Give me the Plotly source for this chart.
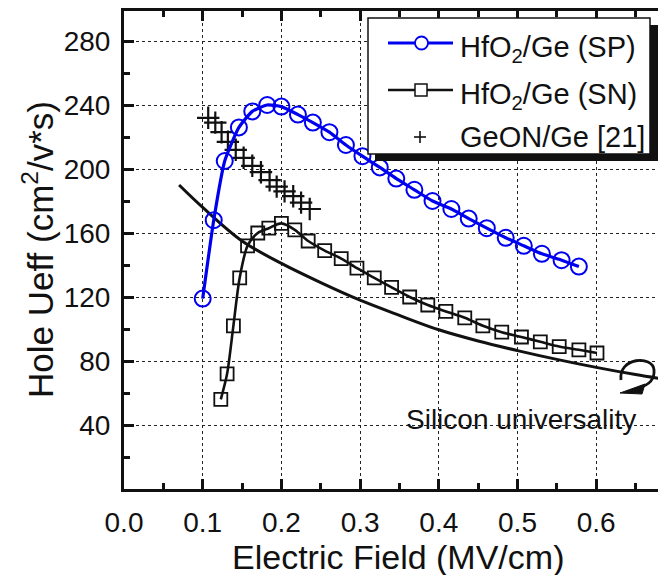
import plotly.graph_objects as go

# ---- data -------------------------------------------------------------
# HfO2/Ge, split-CV on p-type substrate (SP)
sp_field = [0.100, 0.114, 0.128, 0.146, 0.163, 0.182, 0.200, 0.221, 0.240, 0.261,
            0.282, 0.303, 0.325, 0.346, 0.369, 0.392, 0.416, 0.438, 0.461, 0.485,
            0.508, 0.531, 0.556, 0.578]
sp_mob = [119, 168, 205, 226, 236, 240, 239, 234, 229, 223,
          215, 208, 201, 194, 187, 180, 175, 169, 163, 157,
          152, 147, 143, 139]

# HfO2/Ge (SN)
sn_field = [0.123, 0.131, 0.139, 0.147, 0.157, 0.170, 0.184, 0.200, 0.217, 0.234,
            0.255, 0.276, 0.296, 0.318, 0.340, 0.363, 0.386, 0.409, 0.433, 0.456,
            0.480, 0.505, 0.529, 0.553, 0.578, 0.601]
sn_mob = [56, 72, 102, 132, 152, 160, 163, 166, 162, 155,
          149, 144, 138, 132, 126, 120, 115, 111, 107, 102,
          98, 95, 92, 89, 87, 85]

# GeON/Ge reference data [21]
geon_field = [0.107, 0.116, 0.124, 0.132, 0.142, 0.152, 0.163, 0.174, 0.185, 0.194,
              0.204, 0.215, 0.225, 0.236]
geon_mob = [232, 229, 223, 217, 212, 207, 202, 198, 193, 189, 186, 183, 179, 175]

# Silicon universal hole mobility curve
si_field = [0.07, 0.10, 0.15, 0.20, 0.25, 0.30, 0.35, 0.40, 0.45, 0.50, 0.55, 0.60, 0.65, 0.70]
si_mob = [190, 176, 155, 141, 129, 118, 108.5, 99.5, 92.5, 86.5, 81, 76, 71.5, 67.5]

x_ticks = [0.0, 0.1, 0.2, 0.3, 0.4, 0.5, 0.6]
x_ticktext = ["0.0", "0.1", "0.2", "0.3", "0.4", "0.5", "0.6"]
y_ticks = [40, 80, 120, 160, 200, 240, 280]

# ---- geometry helpers ---------------------------------------------------
W, H = 658, 575
ML, MR, MT, MB = 124, 0, 11, 86
PW, PH = W - ML - MR, H - MT - MB


def px(x):
    return (x - ML) / PW


def py(y):
    return (H - MB - y) / PH


FONT = "Liberation Sans, Arial, Helvetica, sans-serif"
BLUE = "#0000F0"
BLACK = "#111111"

fig = go.Figure()

fig.add_trace(go.Scatter(
    x=si_field, y=si_mob, mode="lines",
    line=dict(color=BLACK, width=3, shape="spline", smoothing=1),
    showlegend=False, cliponaxis=True))

fig.add_trace(go.Scatter(
    x=geon_field, y=geon_mob, mode="markers",
    marker=dict(symbol="cross-thin-open", size=16, color=BLACK,
                line=dict(color=BLACK, width=2.2)),
    name="GeON/Ge [21]", showlegend=False))

fig.add_trace(go.Scatter(
    x=sn_field, y=sn_mob, mode="lines+markers",
    line=dict(color=BLACK, width=2.6, shape="spline", smoothing=0.8),
    marker=dict(symbol="square-open", size=13, color=BLACK, line=dict(width=1.8)),
    name="HfO2/Ge (SN)", showlegend=False))

fig.add_trace(go.Scatter(
    x=sp_field, y=sp_mob, mode="lines+markers",
    line=dict(color=BLUE, width=3.2, shape="spline", smoothing=0.5),
    marker=dict(symbol="circle-open", size=16, color=BLUE, line=dict(width=2)),
    name="HfO2/Ge (SP)", showlegend=False))

shapes = []
annotations = []

# legend frame with drop shadow
shapes.append(dict(type="rect", xref="paper", yref="paper",
                   x0=px(375), x1=px(658), y0=py(161), y1=py(25),
                   fillcolor=BLACK, line=dict(width=0), layer="above"))
shapes.append(dict(type="rect", xref="paper", yref="paper",
                   x0=px(368), x1=px(650), y0=py(154), y1=py(18),
                   fillcolor="white", line=dict(color=BLACK, width=1.5), layer="above"))

rows = [43, 90, 137]
# SP entry
shapes.append(dict(type="line", xref="paper", yref="paper", x0=px(388), x1=px(453),
                   y0=py(rows[0]), y1=py(rows[0]), line=dict(color=BLUE, width=3), layer="above"))
shapes.append(dict(type="circle", xref="paper", yref="paper", x0=px(415), x1=px(428),
                   y0=py(rows[0] + 6.5), y1=py(rows[0] - 6.5), fillcolor="white",
                   line=dict(color=BLUE, width=1.8), layer="above"))
# SN entry
shapes.append(dict(type="line", xref="paper", yref="paper", x0=px(388), x1=px(453),
                   y0=py(rows[1]), y1=py(rows[1]), line=dict(color=BLACK, width=2.6), layer="above"))
shapes.append(dict(type="rect", xref="paper", yref="paper", x0=px(415), x1=px(427),
                   y0=py(rows[1] + 6), y1=py(rows[1] - 6), fillcolor="white",
                   line=dict(color=BLACK, width=1.5), layer="above"))
# GeON entry
shapes.append(dict(type="line", xref="paper", yref="paper", x0=px(414), x1=px(426),
                   y0=py(rows[2]), y1=py(rows[2]), line=dict(color=BLACK, width=1.6), layer="above"))
shapes.append(dict(type="line", xref="paper", yref="paper", x0=px(420), x1=px(420),
                   y0=py(rows[2] + 6), y1=py(rows[2] - 6), line=dict(color=BLACK, width=1.6), layer="above"))

labels = ["HfO<sub>2</sub>/Ge (SP)", "HfO<sub>2</sub>/Ge (SN)", "GeON/Ge [21]"]
for r, t, dy in zip(rows, labels, [6, 6, 0]):
    annotations.append(dict(text=t, xref="paper", yref="paper", x=px(458), y=py(r + dy),
                            xanchor="left", yanchor="middle", showarrow=False,
                            font=dict(family=FONT, size=29, color=BLACK)))

# curl marker next to the silicon curve
curl = "M {},{} C {},{} {},{} {},{} C {},{} {},{} {},{}".format(
    px(621), py(380), px(618), py(357), px(653), py(355), px(654), py(370),
    px(655), py(381), px(646), py(386), px(638), py(388))
shapes.append(dict(type="path", xref="paper", yref="paper", path=curl,
                   line=dict(color=BLACK, width=2.8), layer="above"))
head = "M {},{} L {},{} L {},{} Z".format(px(620), py(393), px(645), py(384), px(642), py(394))
shapes.append(dict(type="path", xref="paper", yref="paper", path=head,
                   fillcolor=BLACK, line=dict(color=BLACK, width=1), layer="above"))

annotations.append(dict(text="Silicon universality", xref="paper", yref="paper",
                        x=px(521), y=py(419), xanchor="center", yanchor="middle",
                        showarrow=False, font=dict(family=FONT, size=28, color=BLACK)))

# axis titles
annotations.append(dict(text="Electric Field (MV/cm)", xref="paper", yref="paper",
                        x=px(398), y=py(557), xanchor="center", yanchor="middle",
                        showarrow=False, font=dict(family=FONT, size=34, color=BLACK)))
annotations.append(dict(text="Hole Ueff (cm<sup>2</sup>/v*s)", xref="paper", yref="paper",
                        x=px(38), y=py(250), xanchor="center", yanchor="middle",
                        textangle=-90, showarrow=False,
                        font=dict(family=FONT, size=35, color=BLACK)))

axis_common = dict(
    showline=True, linecolor=BLACK, linewidth=3,
    ticks="inside", ticklen=10, tickwidth=2.5, tickcolor=BLACK,
    showgrid=True, gridcolor="#222222", griddash="dot", gridwidth=1.2,
    zeroline=False,
    tickfont=dict(family=FONT, size=28, color=BLACK),
)

fig.update_xaxes(
    range=[0, PW / 787.0], tickmode="array", tickvals=x_ticks, ticktext=x_ticktext,
    mirror="ticks", ticklabelstandoff=6,
    minor=dict(ticks="inside", ticklen=6, tickwidth=2.5, tickcolor=BLACK, dtick=0.05,
               tick0=0, showgrid=False),
    **axis_common)
fig.update_yaxes(
    range=[0, PH / 1.6], tickmode="array", tickvals=y_ticks,
    mirror=False, ticklabelstandoff=5,
    minor=dict(ticks="inside", ticklen=6, tickwidth=2.5, tickcolor=BLACK, dtick=20,
               tick0=0, showgrid=False),
    **axis_common)

fig.update_layout(
    width=W, height=H,
    margin=dict(l=ML, r=MR, t=MT, b=MB, pad=0),
    paper_bgcolor="white", plot_bgcolor="white",
    showlegend=False,
    shapes=shapes, annotations=annotations,
    font=dict(family=FONT, color=BLACK),
)

fig.write_html("out.html")
